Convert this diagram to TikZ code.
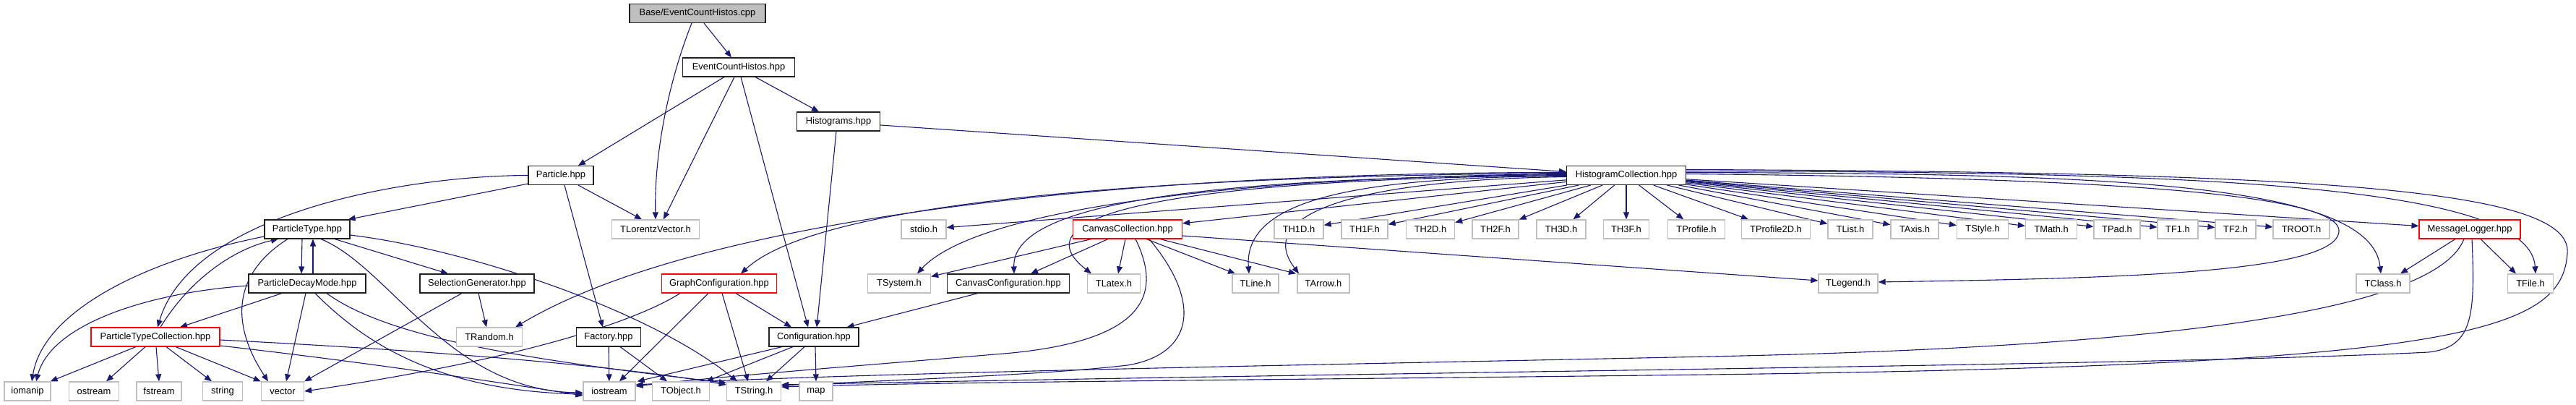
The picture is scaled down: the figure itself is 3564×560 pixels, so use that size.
\documentclass[tikz,border=0pt]{standalone}
\usepackage{fontspec}
\setmainfont{Liberation Sans}
\usetikzlibrary{arrows.meta,calc,backgrounds}
\definecolor{edgec}{HTML}{191970}
\definecolor{grayb}{HTML}{BFBFBF}
\definecolor{rootf}{HTML}{BFBFBF}
\definecolor{boxd}{HTML}{202020}
\tikzset{
  nb/.style={draw=boxd, line width=0.55pt, fill=white, minimum height=13pt, inner sep=0pt,
     font=\fontsize{6.45}{7}\selectfont},
  gb/.style={nb, draw=grayb, line width=0.65pt},
  rb/.style={nb, draw=red},
  rootb/.style={nb, fill=rootf},
  e/.style={draw=edgec, line width=0.55pt, -{Triangle[length=5pt,width=4pt]}}
}
\begin{document}
\begin{tikzpicture}[x=0.5pt,y=-0.5pt]
\useasboundingbox (0,0) rectangle (3564,560);
% row 0-3
\node[rootb,minimum width=94pt] (base) at (965,18.5) {Base/EventCountHistos.cpp};
\node[nb,minimum width=77.5pt] (evh) at (1022,93) {EventCountHistos.hpp};
\node[nb,minimum width=57.5pt] (hist) at (1160,168) {Histograms.hpp};
\node[nb,minimum width=45pt] (particle) at (776,242.5) {Particle.hpp};
\node[nb,minimum width=82.5pt] (hc) at (2250,242.5) {HistogramCollection.hpp};
% row 4
\node[nb,minimum width=59pt] (ptype) at (425,317) {ParticleType.hpp};
\node[gb,minimum width=60.5pt] (tlv) at (907,317) {TLorentzVector.h};
\node[gb,minimum width=31pt] (stdio) at (1278,317) {stdio.h};
\node[rb,minimum width=75.5pt] (cc) at (1560,317) {CanvasCollection.hpp};
\node[gb,minimum width=34pt] (th1d) at (1797,317) {TH1D.h};
\node[gb,minimum width=32pt] (th1f) at (1888,317) {TH1F.h};
\node[gb,minimum width=33.5pt] (th2d) at (1979,317) {TH2D.h};
\node[gb,minimum width=32pt] (th2f) at (2069,317) {TH2F.h};
\node[gb,minimum width=34pt] (th3d) at (2160,317) {TH3D.h};
\node[gb,minimum width=31.5pt] (th3f) at (2250,317) {TH3F.h};
\node[gb,minimum width=39.5pt] (tprof) at (2347,317) {TProfile.h};
\node[gb,minimum width=47.5pt] (tprof2) at (2457,317) {TProfile2D.h};
\node[gb,minimum width=31pt] (tlist) at (2560,317) {TList.h};
\node[gb,minimum width=33pt] (taxis) at (2649,317) {TAxis.h};
\node[gb,minimum width=35.5pt] (tstyle) at (2743,317) {TStyle.h};
\node[gb,minimum width=35.5pt] (tmath) at (2838,317) {TMath.h};
\node[gb,minimum width=32pt] (tpad) at (2929,317) {TPad.h};
\node[gb,minimum width=28pt] (tf1) at (3013,317) {TF1.h};
\node[gb,minimum width=28pt] (tf2) at (3093,317) {TF2.h};
\node[gb,minimum width=39pt] (troot) at (3184,317) {TROOT.h};
\node[rb,minimum width=70pt] (ml) at (3417,317) {MessageLogger.hpp};
% row 5
\node[nb,minimum width=81pt] (pdm) at (425,392) {ParticleDecayMode.hpp};
\node[nb,minimum width=79pt] (sg) at (660,392) {SelectionGenerator.hpp};
\node[rb,minimum width=79.5pt] (gc) at (995,392) {GraphConfiguration.hpp};
\node[gb,minimum width=43.5pt] (tsys) at (1244,392) {TSystem.h};
\node[nb,minimum width=84.5pt] (ccfg) at (1395,392) {CanvasConfiguration.hpp};
\node[gb,minimum width=36.5pt] (tlatex) at (1541,392) {TLatex.h};
\node[gb,minimum width=32pt] (tline) at (1737,392) {TLine.h};
\node[gb,minimum width=36pt] (tarrow) at (1831,392) {TArrow.h};
\node[gb,minimum width=41pt] (tlegend) at (2557,392) {TLegend.h};
\node[gb,minimum width=37pt] (tclass) at (3297,392) {TClass.h};
\node[gb,minimum width=31.5pt] (tfile) at (3501,392) {TFile.h};
% row 6
\node[rb,minimum width=89pt] (ptc) at (215,466) {ParticleTypeCollection.hpp};
\node[gb,minimum width=45.5pt] (trandom) at (677,466) {TRandom.h};
\node[nb,minimum width=44.5pt] (factory) at (842,466) {Factory.hpp};
\node[nb,minimum width=62pt] (config) at (1126,466) {Configuration.hpp};
% row 7
\node[gb,minimum width=32pt] (iomanip) at (38,541) {iomanip};
\node[gb,minimum width=34.5pt] (ostream) at (130,541) {ostream};
\node[gb,minimum width=31pt] (fstream) at (220,541) {fstream};
\node[gb,minimum width=27.5pt] (string) at (308,541) {string};
\node[gb,minimum width=29.5pt] (vector) at (391,541) {vector};
\node[gb,minimum width=36pt] (iostream) at (843,541) {iostream};
\node[gb,minimum width=39.5pt] (tobject) at (942,541) {TObject.h};
\node[gb,minimum width=37.5pt] (tstring) at (1043,541) {TString.h};
\node[gb,minimum width=23pt] (map) at (1129,541) {map};

\begin{scope}[on background layer]
% top part
\draw[e] ($(base.south)+(9,0)$) -- ($(evh.north)+(-10,0)$);
\draw[e] ($(base.south)+(-8,0)$) .. controls (930,100) and (905,200) .. (tlv.north);
\draw[e] ($(evh.south)+(-20,0)$) -- ($(particle.north)+(24,0)$);
\draw[e] ($(evh.south)+(-6,0)$) -- ($(tlv.north)+(11,0)$);
\draw[e] ($(evh.south)+(23,0)$) -- ($(hist.north)+(-27,0)$);
\draw[e] ($(evh.south)+(3,0)$) -- ($(config.north)+(-8,0)$);
\draw[e] ($(hist.south)+(-3,0)$) -- ($(config.north)+(4,0)$);
\draw[e] ($(hist.east)+(0,5)$) -- ($(hc.west)+(0,-5)$);
% Particle
\draw[e] ($(particle.south west)+(0,-2)$) -- ($(ptype.north east)+(-3,0)$);
\draw[e] (particle.west) .. controls (560,243) and (265,295) .. ($(ptc.north)+(3,0)$);
\draw[e] ($(particle.south)+(24,0)$) -- ($(tlv.north)+(-19,0)$);
\draw[e] ($(particle.south)+(5,0)$) -- ($(factory.north)+(-8,0)$);
% ParticleType
\draw[e] ($(ptype.south)+(-7,0)$) -- ($(pdm.north)+(-8,0)$);
\draw[e] ($(pdm.north)+(8,0)$) -- ($(ptype.south)+(8,0)$);
\draw[e] ($(ptc.north)+(7,0)$) .. controls (260,390) and (320,345) .. ($(ptype.south)+(-40,0)$);
\draw[e] ($(ptype.south)+(-27,0)$) .. controls (320,380) and (320,450) .. ($(vector.north)+(-20,0)$);
\draw[e] ($(ptype.west)+(0,10)$) .. controls (200,360) and (60,430) .. ($(iomanip.north)+(6,0)$);
\draw[e] ($(ptype.south)+(19,0)$) .. controls (540,370) and (620,540) .. ($(iostream.west)+(0,2)$);
\draw[e] ($(ptype.south)+(38,0)$) -- ($(sg.north)+(-40,0)$);
\draw[e] ($(ptype.east)+(0,8)$) .. controls (650,345) and (900,430) .. ($(tstring.north)+(-23,0)$);
% ParticleDecayMode
\draw[e] ($(pdm.west)+(0,3)$) .. controls (200,405) and (70,450) .. ($(iomanip.north)+(12,0)$);
\draw[e] ($(pdm.south)+(-35,0)$) -- ($(ptc.north)+(34,0)$);
\draw[e] ($(pdm.south)+(-2,0)$) -- ($(vector.north)+(5,0)$);
\draw[e] ($(pdm.south)+(11,0)$) .. controls (500,470) and (600,540) .. ($(iostream.west)+(0,4)$);
\draw[e] ($(pdm.south)+(27,0)$) .. controls (540,470) and (750,500) .. ($(tstring.north west)+(0,2)$);
% ParticleTypeCollection
\draw[e] ($(ptc.south)+(-27,0)$) -- ($(iomanip.north east)+(-1,0)$);
\draw[e] ($(ptc.south)+(-14,0)$) -- ($(ostream.north)+(17,0)$);
\draw[e] ($(ptc.south)+(1,0)$) -- (fstream.north);
\draw[e] ($(ptc.south)+(15,0)$) -- ($(string.north)+(-15,0)$);
\draw[e] ($(ptc.south)+(28,0)$) -- (vector.north west);
\draw[e] ($(ptc.east)+(0,4)$) .. controls (600,485) and (850,505) .. ($(tstring.west)+(0,-9)$);
\draw[e] ($(ptc.east)+(0,12)$) .. controls (500,500) and (700,530) .. ($(iostream.west)+(0,6)$);
% SelectionGenerator
\draw[e] ($(sg.south)+(-21,0)$) -- (vector.north east);
\draw[e] ($(sg.south)+(2,0)$) -- ($(trandom.north)+(-4,0)$);
% GraphConfiguration
\draw[e] ($(gc.south)+(-54,0)$) .. controls (870,450) and (700,500) .. (vector.east);
\draw[e] ($(gc.south)+(-15,0)$) -- ($(iostream.north)+(14,0)$);
\draw[e] ($(gc.south)+(4,0)$) -- ($(tstring.north)+(-8,0)$);
\draw[e] ($(gc.south)+(23,0)$) -- ($(config.north)+(-31,0)$);
% Factory
\draw[e] (factory) -- (iostream);
\draw[e] ($(factory.south)+(16,0)$) -- ($(tobject.north)+(-19,0)$);
% Configuration
\draw[e] ($(config.south)+(-44,0)$) -- ($(iostream.north east)+(2,0)$);
\draw[e] ($(config.south)+(-29,0)$) -- ($(tobject.north)+(35,0)$);
\draw[e] ($(config.south)+(-13,0)$) -- ($(tstring.north)+(17,0)$);
\draw[e] ($(config.south)+(2,0)$) -- (map.north);
% CanvasConfiguration
\draw[e] ($(ccfg.south)+(-42,0)$) -- ($(config.north east)+(-17,0)$);
% CanvasCollection
\draw[e] ($(cc.south)+(-50,0)$) -- ($(tsys.north east)+(0,4)$);
\draw[e] ($(cc.south)+(-27,0)$) -- ($(ccfg.north)+(31,0)$);
\draw[e] ($(cc.south)+(-3,0)$) -- ($(tlatex.north)+(6,0)$);
\draw[e] ($(cc.south)+(26,0)$) -- ($(tline.north)+(-28,0)$);
\draw[e] ($(cc.south)+(45,0)$) -- ($(tarrow.north)+(-38,0)$);
\draw[e] ($(cc.east)+(0,9)$) -- ($(tlegend.west)+(0,-4)$);
\draw[e] ($(cc.south)+(11,0)$) .. controls (1610,410) and (1580,470) .. (1400,488)
   .. controls (1200,505) and (1000,520) .. ($(iostream.east)+(0,-7)$);
\draw[e] ($(cc.south)+(30,0)$) .. controls (1665,420) and (1650,490) .. (1560,505)
   .. controls (1450,518) and (1250,525) .. ($(tstring.east)+(0,-8)$);
% HistogramCollection straight
\foreach \t in {stdio,cc,th1d,th1f,th2d,th2f,th3d,th3f,tprof,tprof2,tlist,taxis,tstyle,tmath,tpad,tf1,tf2,troot,ml}
  \draw[e] (hc) -- (\t);
% HistogramCollection curves
\draw[e] ($(hc.west)+(0,-2)$) .. controls (1700,245) and (1350,290) .. ($(tsys.north)+(25,0)$);
\draw[e] ($(hc.west)+(0,-1)$) .. controls (1700,246) and (1400,275) .. ($(ccfg.north)+(8,0)$);
\draw[e] (hc.west) .. controls (1700,247) and (1390,285) .. ($(tlatex.north)+(-31,0)$);
\draw[e] ($(hc.west)+(0,1)$) .. controls (1900,245) and (1720,270) .. ($(tline.north)+(-9,0)$);
\draw[e] ($(hc.west)+(0,2)$) .. controls (1900,248) and (1730,290) .. ($(tarrow.north)+(-34,0)$);
\draw[e] ($(hc.west)+(0,-4)$) .. controls (1500,238) and (950,310) .. ($(trandom.north east)+(-10,0)$);
\draw[e] ($(hc.west)+(0,-3)$) .. controls (1500,244) and (1120,290) .. ($(gc.north)+(30,0)$);
\draw[e] ($(hc.east)+(0,-2)$) .. controls (2800,245) and (3240,260) .. (3236,320)
   .. controls (3232,380) and (2900,385) .. ($(tlegend.east)+(0,-2)$);
\draw[e] ($(hc.east)+(0,-4)$) .. controls (2900,240) and (3280,250) .. ($(tclass.north)+(-3,0)$);
\draw[e] ($(hc.east)+(0,-6)$) .. controls (3000,238) and (3500,250) .. ($(tfile.north)+(7,0)$);
\draw[e] ($(hc.east)+(0,-8)$) .. controls (3200,238) and (3560,260) .. (3552,350)
   .. controls (3545,460) and (3400,505) .. (2364,518)
   .. controls (1800,525) and (1300,528) .. ($(tstring.east)+(0,-6)$);
% MessageLogger
\draw[e] ($(ml.south)+(-20,0)$) -- ($(tclass.north)+(24,0)$);
\draw[e] ($(ml.south)+(15,0)$) -- ($(tfile.north)+(-20,0)$);
\draw[e] ($(ml.south)+(-8,0)$) .. controls (3370,430) and (3000,480) .. (2364,493)
   .. controls (1800,505) and (1200,515) .. ($(iostream.east)+(0,-9)$);
\draw[e] ($(ml.south)+(3,0)$) .. controls (3425,440) and (3420,480) .. (3360,487)
   .. controls (3000,505) and (2000,513) .. ($(tstring.east)+(0,-9)$);
\end{scope}
\end{tikzpicture}
\end{document}
